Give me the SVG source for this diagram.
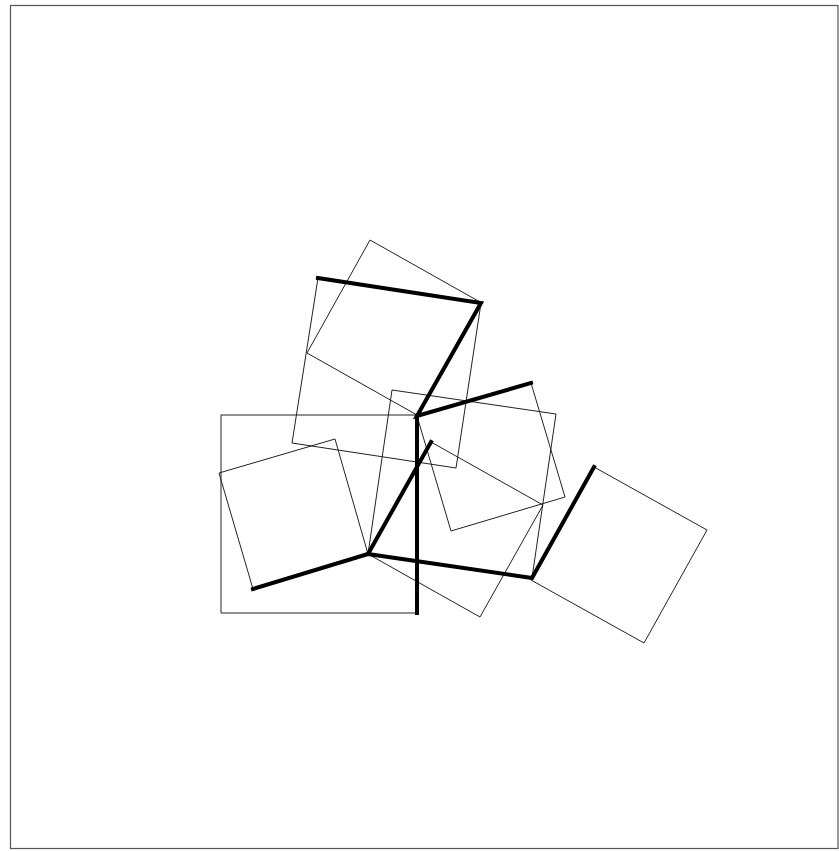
<svg xmlns="http://www.w3.org/2000/svg" width="839" height="851" viewBox="0 0 839 851">
<style>
.thin{fill:none;stroke:#222;stroke-width:1}
.bold{fill:none;stroke:#000;stroke-width:4;stroke-linecap:square}
.frame{fill:none;stroke:#555;stroke-width:1.2}
</style>
<rect width="839" height="851" fill="#fff"/>
<rect class="frame" x="10.5" y="5.5" width="827.5" height="843"/>
<g id="sqA"><polygon class="thin" points="370,240 480,302 417,415 307,353"/></g>
<g id="sqB"><polygon class="thin" points="318,278 481,303 456,468 292,443"/></g>
<g id="sqC"><polygon class="thin" points="221,415 417,415 417,613 221,613"/></g>
<g id="sqD"><polygon class="thin" points="219,473 335,439 368,554 253,589"/></g>
<g id="sqE"><polygon class="thin" points="368,554 431,442 543,505 480,617"/></g>
<g id="sqF"><polygon class="thin" points="392,390 556,414 532,578 368,554"/></g>
<g id="sqG"><polygon class="thin" points="417,416 531,383 565,497 451,531"/></g>
<g id="sqH"><polygon class="thin" points="531,580 594,467 707,530 644,643"/></g>
<g id="bold-edges">
<polyline class="bold" points="318,278 481,303 417,416 531,383"/>
<polyline class="bold" points="417,416 417,613"/>
<polyline class="bold" points="253,589 368,554 431,442"/>
<polyline class="bold" points="368,554 532,578 594,467"/>
</g>
</svg>
